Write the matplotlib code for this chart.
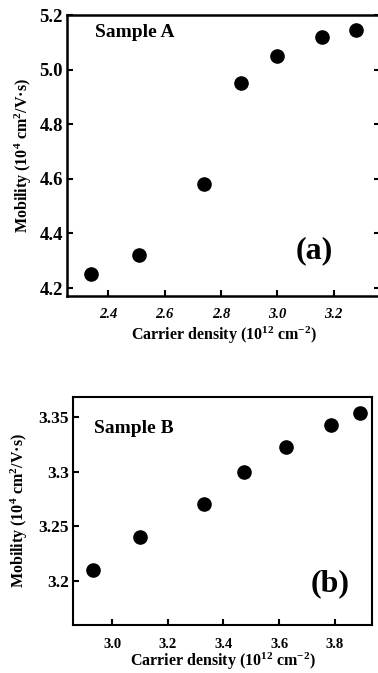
import matplotlib
matplotlib.use("Agg")
import matplotlib.pyplot as plt

plt.rcParams['font.family'] = ['Liberation Serif', 'DejaVu Serif']
plt.rcParams['font.weight'] = 'bold'
plt.rcParams['axes.labelweight'] = 'bold'
plt.rcParams['mathtext.fontset'] = 'custom'
plt.rcParams['mathtext.rm'] = 'Liberation Serif:bold'
plt.rcParams['mathtext.bf'] = 'Liberation Serif:bold'
plt.rcParams['mathtext.it'] = 'Liberation Serif:bold'
plt.rcParams['mathtext.default'] = 'bf'

# ── data ───────────────────────────────────────────────────
density_a = [2.34, 2.51, 2.74, 2.87, 3.00, 3.16, 3.28]
mobility_a = [4.25, 4.32, 4.58, 4.95, 5.05, 5.12, 5.145]
xticks_a = [2.4, 2.6, 2.8, 3.0, 3.2]
yticks_a = [4.2, 4.4, 4.6, 4.8, 5.0, 5.2]
yticklabels_a = ['4.2', '4.4', '4.6', '4.8', '5.0', '5.2']

density_b = [2.93, 3.10, 3.33, 3.475, 3.625, 3.785, 3.89]
mobility_b = [3.21, 3.24, 3.27, 3.30, 3.322, 3.342, 3.353]
xticks_b = [3.0, 3.2, 3.4, 3.6, 3.8]
yticks_b = [3.2, 3.25, 3.3, 3.35]
yticklabels_b = ['3.2', '3.25', '3.3', '3.35']

ylabel = 'Mobility (10$^{4}$ cm$^{2}$/V·s)'
xlabel = 'Carrier density (10$^{12}$ cm$^{-2}$)'

fig = plt.figure(figsize=(3.78, 6.73), dpi=100)

# ── panel (a) ─────────────────────────────────────────────
ax1 = fig.add_axes([67/378, 1 - 296/673, 313/378, 281/673])
ax1.plot(density_a, mobility_a, 'o', color='k', markersize=9.5)
ax1.set_xlim(2.253, 3.365)
ax1.set_ylim(4.171, 5.2)
ax1.set_xticks(xticks_a)
ax1.set_xticklabels([f'{v:.1f}' for v in xticks_a], fontsize=10.5, style='italic')
ax1.set_yticks(yticks_a)
ax1.set_yticklabels(yticklabels_a, fontsize=13.5)
ax1.tick_params(direction='in', length=4, width=1.5, right=True)
ax1.tick_params(axis='x', pad=9)
ax1.tick_params(axis='y', pad=3)
ax1.set_ylabel(ylabel, fontsize=11.5, labelpad=4)
ax1.set_xlabel(xlabel, fontsize=11.5, labelpad=2)
ax1.text(0.09, 0.92, 'Sample A', transform=ax1.transAxes, fontsize=14)
ax1.text(0.79, 0.16, '(a)', transform=ax1.transAxes, fontsize=23,
         ha='center', va='center')
for s in ax1.spines.values():
    s.set_linewidth(1.8)

# ── panel (b) ─────────────────────────────────────────────
ax2 = fig.add_axes([73/378, 1 - 625/673, 299/378, 228/673])
ax2.plot(density_b, mobility_b, 'o', color='k', markersize=9.5)
ax2.set_xlim(2.86, 3.933)
ax2.set_ylim(3.16, 3.368)
ax2.set_xticks(xticks_b)
ax2.set_xticklabels([f'{v:.1f}' for v in xticks_b], fontsize=10.5)
ax2.set_yticks(yticks_b)
ax2.set_yticklabels(yticklabels_b, fontsize=12.5)
ax2.tick_params(direction='in', length=4, width=1.5)
ax2.tick_params(axis='x', pad=9)
ax2.tick_params(axis='y', pad=3)
ax2.set_ylabel(ylabel, fontsize=11.5, labelpad=6)
ax2.set_xlabel(xlabel, fontsize=11.5, labelpad=0)
ax2.text(0.07, 0.84, 'Sample B', transform=ax2.transAxes, fontsize=14)
ax2.text(0.86, 0.18, '(b)', transform=ax2.transAxes, fontsize=23,
         ha='center', va='center')
for s in ax2.spines.values():
    s.set_linewidth(1.5)

fig.savefig('out.png', dpi=100)
